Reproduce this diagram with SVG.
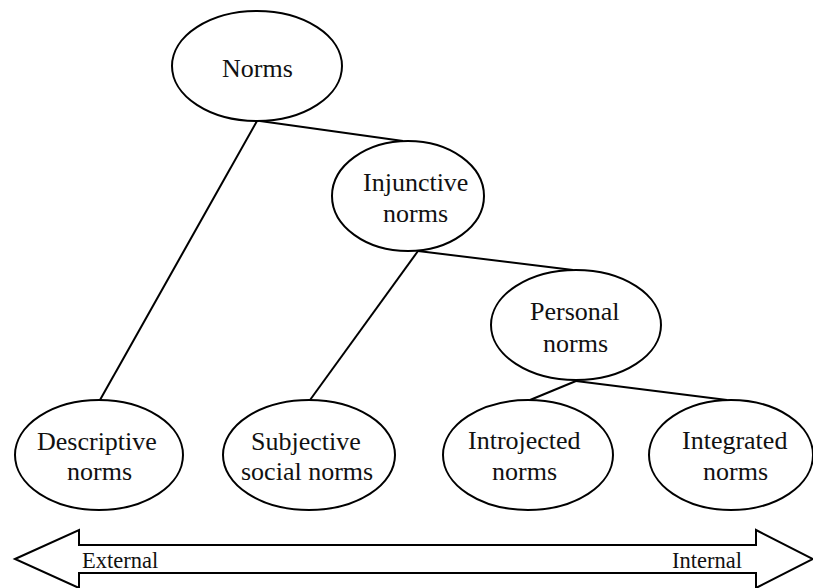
<svg xmlns="http://www.w3.org/2000/svg" width="813" height="588" viewBox="0 0 813 588">
<style>
.n{fill:#fff;stroke:#000;stroke-width:2}
.c{stroke:#000;stroke-width:2;fill:none}
.t{font-family:"Liberation Serif","Times New Roman",serif;font-size:26px;fill:#111}
.a{font-family:"Liberation Serif","Times New Roman",serif;font-size:22.5px;fill:#111}
</style>
<rect width="813" height="588" fill="#fff"/>
<g id="connectors">
<line class="c" x1="257" y1="121" x2="100" y2="400"/>
<line class="c" x1="260" y1="121" x2="403" y2="141"/>
<line class="c" x1="418" y1="251" x2="310" y2="400"/>
<line class="c" x1="418" y1="251" x2="573" y2="270"/>
<line class="c" x1="576" y1="381" x2="530" y2="400"/>
<line class="c" x1="576" y1="381" x2="727" y2="400"/>
</g>
<g id="norms"><ellipse class="n" cx="257" cy="66" rx="85" ry="55"/><text class="t" x="222" y="77">Norms</text></g>
<g id="injunctive"><ellipse class="n" cx="408" cy="196" rx="76" ry="55"/><text class="t" x="363" y="191">Injunctive</text><text class="t" x="383" y="222">norms</text></g>
<g id="personal"><ellipse class="n" cx="576" cy="325" rx="85" ry="55"/><text class="t" x="530" y="320">Personal</text><text class="t" x="543" y="352">norms</text></g>
<g id="descriptive"><ellipse class="n" cx="99" cy="455" rx="84" ry="55"/><text class="t" x="37" y="450">Descriptive</text><text class="t" x="67" y="480">norms</text></g>
<g id="subjective"><ellipse class="n" cx="309" cy="455" rx="86" ry="55"/><text class="t" x="251" y="450">Subjective</text><text class="t" x="241" y="480">social norms</text></g>
<g id="introjected"><ellipse class="n" cx="528" cy="455" rx="85" ry="55"/><text class="t" x="468" y="449">Introjected</text><text class="t" x="492" y="480">norms</text></g>
<g id="integrated"><ellipse class="n" cx="731" cy="455" rx="82" ry="55"/><text class="t" x="682" y="449">Integrated</text><text class="t" x="703" y="480">norms</text></g>
<g id="axis">
<polygon class="n" points="15,559 79,530 79,545 756,545 756,530 813,559 756,588 756,573 79,573 79,588"/>
<text class="a" x="82" y="568">External</text>
<text class="a" x="672" y="568">Internal</text>
</g>
</svg>
